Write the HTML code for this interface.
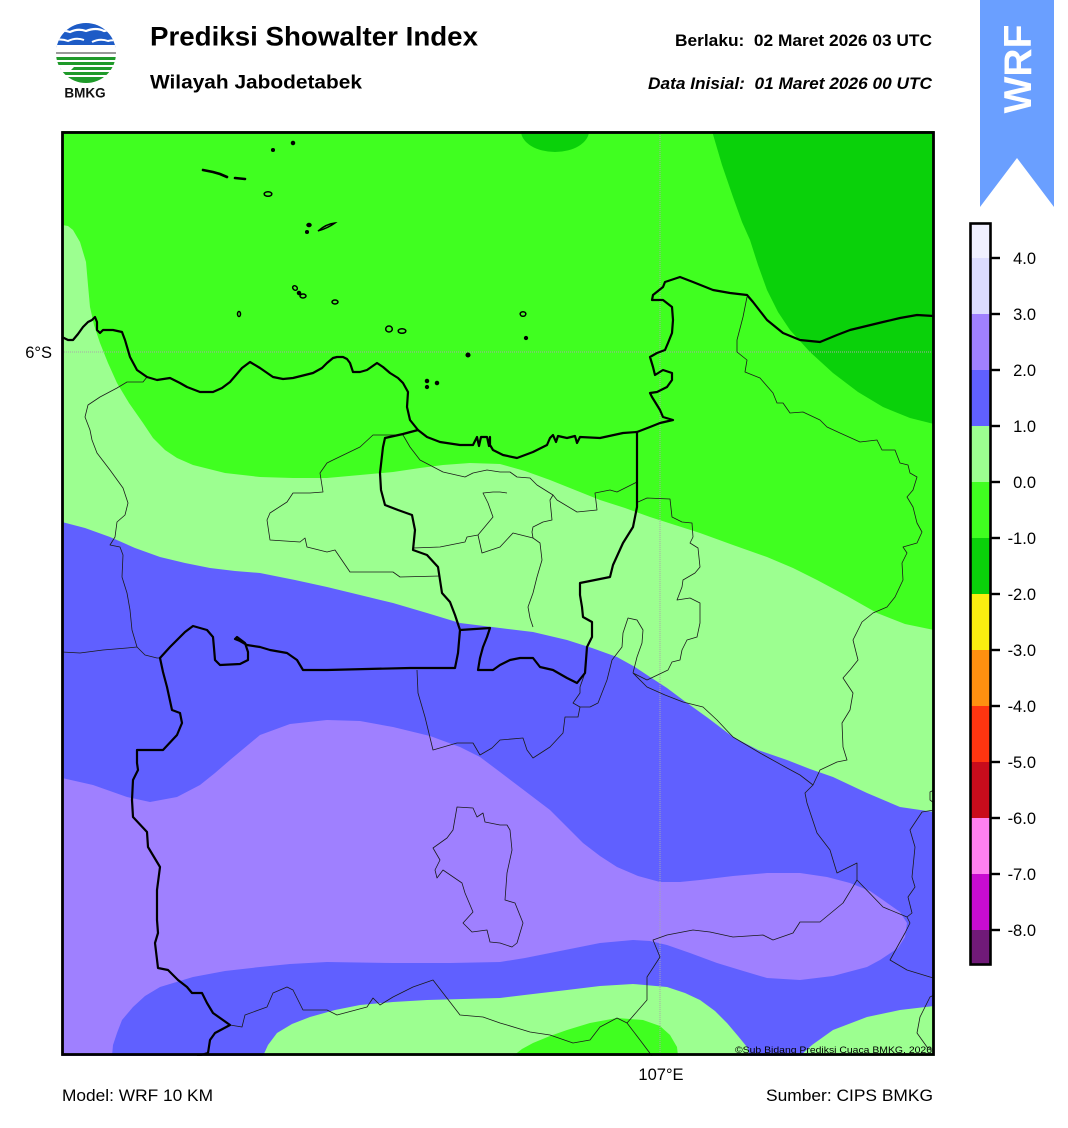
<!DOCTYPE html>
<html>
<head>
<meta charset="utf-8">
<style>
html,body{margin:0;padding:0;background:#fff;}
svg{display:block;}
text{font-family:"Liberation Sans",Arial,sans-serif;}
</style>
</head>
<body>
<svg width="1068" height="1128" viewBox="0 0 1068 1128" xmlns="http://www.w3.org/2000/svg">
<rect x="0" y="0" width="1068" height="1128" fill="#fff"/>

<!-- ===== LOGO ===== -->
<defs>
  <clipPath id="lc"><circle cx="86" cy="53" r="30"/></clipPath>
  <clipPath id="mc"><rect x="62" y="131" width="872" height="925"/></clipPath>
</defs>
<g clip-path="url(#lc)">
  <rect x="50" y="20" width="75" height="28" fill="#1d5bc6"/>
  <path d="M52,33 Q62,29 70,32 Q78,28 86,31 Q96,27 104,31 Q112,29 122,32" stroke="#fff" stroke-width="2.2" fill="none"/>
  <path d="M52,41 Q60,38 68,41 Q76,37 84,40" stroke="#fff" stroke-width="2" fill="none"/>
  <path d="M92,42 Q100,38 108,41 Q114,39 122,42" stroke="#fff" stroke-width="2" fill="none"/>
  <rect x="50" y="45" width="75" height="5" fill="#fff"/>
  <rect x="50" y="52" width="75" height="2" fill="#9a9a9a"/>
  <rect x="50" y="57" width="75" height="3" fill="#1f9a2a"/>
  <rect x="50" y="62" width="75" height="3" fill="#1f9a2a"/>
  <rect x="60" y="67" width="65" height="3" fill="#1f9a2a"/>
  <rect x="50" y="72" width="75" height="3" fill="#1f9a2a"/>
  <rect x="50" y="77" width="75" height="6" fill="#1f9a2a"/>
  <path d="M50,66 L75,66 L70,71 L50,71 Z" fill="#fff"/>
</g>
<text x="85" y="97.5" font-size="13.5" font-weight="bold" text-anchor="middle" fill="#111">BMKG</text>

<!-- ===== HEADER TEXT ===== -->
<text x="150" y="45.5" font-size="27" font-weight="bold" fill="#000" textLength="328" lengthAdjust="spacingAndGlyphs">Prediksi Showalter Index</text>
<text x="150" y="88.5" font-size="19.5" font-weight="bold" fill="#000" textLength="212" lengthAdjust="spacingAndGlyphs">Wilayah Jabodetabek</text>
<text x="675" y="46" font-size="16.5" font-weight="bold" fill="#000" textLength="257" lengthAdjust="spacingAndGlyphs">Berlaku:&#160; 02 Maret 2026 03 UTC</text>
<text x="648" y="89" font-size="16.5" font-weight="bold" font-style="italic" fill="#000" textLength="284" lengthAdjust="spacingAndGlyphs">Data Inisial:&#160; 01 Maret 2026 00 UTC</text>

<!-- ===== WRF RIBBON ===== -->
<polygon points="980,0 1054,0 1054,207 1017,158 980,207" fill="#6a9fff"/>
<text transform="translate(1031,69) rotate(-90)" font-size="39" font-weight="bold" fill="#fff" text-anchor="middle">WRF</text>

<!-- ===== MAP ===== -->
<g clip-path="url(#mc)">
  <rect x="62" y="131" width="872" height="925" fill="#40ff20"/>
  <!-- dark green -->
  <path d="M712,131 L722,165 L733,197 L742,222 L750,240 L758,265 L767,290 L778,312 L790,330 L810,352 L833,373 L858,392 L883,407 L910,418 L934,424 L934,131 Z" fill="#0ad10a"/>
  <ellipse cx="555" cy="131" rx="34" ry="21" fill="#0ad10a"/>
  <!-- light green -->
  <path d="M62,225 L68,226 L73,230 L80,242 L86,262 L88,285 L90,307 L94,325 L100,343 L108,363 L117,383 L129,403 L143,423 L153,438 L165,450 L177,458 L193,465 L225,473 L260,477 L293,478 L327,478 L360,475 L393,472 L420,468 L443,465 L470,463 L500,464 L525,471 L550,480 L575,490 L600,500 L625,508 L650,517 L675,525 L700,533 L733,545 L767,557 L793,568 L817,580 L847,596 L877,613 L905,624 L934,630 L934,1056 L62,1056 Z" fill="#9cff90"/>
  <!-- blue -->
  <path d="M62,522 L85,528 L110,537 L135,548 L160,557 L185,563 L210,568 L235,571 L260,573 L295,580 L327,587 L360,595 L393,603 L427,613 L460,623 L500,628 L533,632 L567,640 L592,648 L617,657 L635,667 L650,677 L667,688 L683,700 L708,718 L733,737 L758,750 L787,760 L810,769 L833,777 L867,793 L900,807 L934,812 L934,1056 L62,1056 Z" fill="#6060ff"/>
  <!-- purple -->
  <path d="M62,778 L93,785 L127,797 L150,802 L177,797 L200,785 L215,773 L230,760 L260,735 L290,724 L327,720 L360,721 L393,727 L430,736 L460,747 L480,757 L500,772 L525,791 L550,810 L567,827 L583,843 L600,856 L617,867 L638,876 L660,882 L680,882 L700,880 L733,876 L767,873 L800,873 L827,877 L850,883 L870,891 L883,900 L900,912 L907,923 L905,937 L898,948 L880,960 L867,967 L833,976 L800,980 L767,978 L740,970 L717,963 L690,953 L667,945 L650,941 L633,940 L600,943 L575,948 L550,953 L525,958 L500,962 L450,963 L393,963 L327,962 L290,964 L260,967 L225,971 L193,977 L160,987 L145,996 L133,1007 L122,1020 L117,1033 L113,1045 L112,1056 L62,1056 Z" fill="#9f80ff"/>
  <!-- bottom light green -->
  <path d="M263,1056 L268,1045 L277,1033 L292,1024 L310,1017 L335,1010 L360,1005 L393,1002 L427,1000 L463,999 L500,998 L533,994 L567,990 L600,986 L633,984 L667,987 L685,993 L700,1000 L715,1011 L727,1023 L738,1036 L747,1047 L750,1056 Z" fill="#9cff90"/>
  <path d="M800,1056 L812,1045 L833,1030 L867,1017 L900,1010 L934,1006 L934,1056 Z" fill="#9cff90"/>
  <!-- bottom green -->
  <path d="M513,1056 L522,1049 L533,1043 L550,1036 L567,1030 L590,1023 L617,1018 L643,1020 L660,1026 L670,1035 L677,1047 L678,1056 Z" fill="#40ff20"/>

  <!-- grid lines -->
  <line x1="62" y1="352" x2="934" y2="352" stroke="#a8a8a8" stroke-width="1" stroke-dasharray="1 1"/>
  <line x1="660" y1="131" x2="660" y2="1056" stroke="#a8a8a8" stroke-width="1" stroke-dasharray="1 1"/>

  <!-- thin regency lines -->
  <g fill="none" stroke="#1a1a1a" stroke-width="0.8" stroke-linejoin="round">
    <path d="M147,377 L143,382 L127,382 L117,388 L100,397 L88,405 L85,417 L90,430 L92,440 L97,453 L110,470 L123,488 L128,503 L125,515 L117,522 L115,537 L110,545 L120,547 L123,555 L122,577 L127,593 L130,610 L132,630 L137,647 L145,655 L157,658 L160,658"/>
    <path d="M62,652 L80,653 L103,650 L127,648 L137,647"/>
    <path d="M403,435 L410,447 L420,460 L443,472 L465,477 L473,473 L487,470 L500,472 L510,472 L517,477 L530,478 L537,485 L553,495 L550,500 L552,520 L543,522 L533,527 L532,532 L533,538 L540,543 L542,560 L537,577 L533,593 L528,607 L530,618 L533,627"/>
    <path d="M403,435 L373,435 L360,447 L333,460 L327,463 L320,473 L323,492 L310,493 L293,493 L287,502 L270,513 L267,520 L270,540 L300,542 L305,538 L307,547 L327,552 L335,550 L350,572 L393,572 L400,577 L440,576"/>
    <path d="M413,548 L440,547 L465,542 L467,537 L478,535 L493,517 L488,503 L483,493 L493,492 L500,492 L507,493"/>
    <path d="M478,535 L482,553 L500,547 L513,533 L533,538"/>
    <path d="M553,495 L557,500 L577,512 L597,510 L595,493 L610,490 L617,492 L627,487 L635,483 L637,482"/>
    <path d="M638,502 L647,498 L670,499 L672,517 L682,522 L692,523 L693,537 L690,543 L698,548 L700,567 L695,573 L683,580 L682,587 L677,600 L690,598 L700,603 L700,623 L697,637 L687,640 L682,650 L680,660 L672,662 L668,670 L647,680 L633,673"/>
    <path d="M633,673 L637,657 L642,643 L643,630 L637,620 L628,618 L623,633 L622,647 L612,660 L607,680 L598,703 L590,707 L580,707 L573,703 L580,693 L580,687 L585,673"/>
    <path d="M633,673 L647,687 L665,695 L683,702 L703,707 L717,720 L733,737 L760,753 L787,768 L800,775 L813,785 L805,793 L807,803 L817,833 L830,850 L837,873 L857,863 L857,880 L883,907 L907,917 L910,923 L905,933 L890,960 L907,970 L930,977 L934,978"/>
    <path d="M857,880 L843,903 L820,922 L800,922 L793,933 L773,940 L763,935 L733,937 L710,932 L693,930 L667,935 L653,940 L660,957 L647,977 L647,1000 L627,1023 L640,1040 L652,1056"/>
    <path d="M627,1023 L617,1018 L600,1027 L590,1040 L573,1043 L550,1035 L530,1032 L507,1025 L500,1023 L483,1017 L460,1015 L433,980 L413,987 L393,997 L380,1005 L373,998 L367,1007 L337,1015 L327,1010 L303,1010 L293,990 L287,987 L273,993 L267,1007 L245,1015 L242,1027 L230,1025"/>
    <path d="M747,297 L743,317 L737,340 L737,352 L747,360 L745,372 L760,378 L773,393 L777,403 L783,403 L790,413 L803,412 L820,420 L827,427 L840,433 L860,442 L877,440 L882,450 L895,450 L900,463 L908,465 L910,473 L917,477 L913,490 L907,497 L913,507 L917,523 L922,532 L917,543 L903,547 L907,553 L902,563 L903,580 L895,597 L887,607 L873,613 L862,622 L858,630 L853,640 L858,660 L850,670 L843,678 L853,693 L850,710 L842,723 L843,747 L847,760 L837,762 L820,770 L813,785"/>
    <path d="M934,810 L922,812 L910,830 L915,847 L912,877 L915,887 L908,897 L912,913 L907,917"/>
    <path d="M934,790 L930,792 L930,800 L934,803"/>
    <path d="M934,995 L930,997 L920,1017 L917,1033 L927,1047 L934,1050"/>
    <path d="M457,807 L473,808 L477,817 L483,813 L485,822 L500,825 L507,825 L510,830 L512,850 L507,873 L505,900 L515,903 L523,923 L517,943 L512,947 L500,943 L490,942 L487,930 L472,932 L463,923 L473,912 L465,893 L462,883 L443,870 L437,878 L435,870 L440,860 L433,848 L447,838 L453,830 L457,807 Z"/>
    <path d="M417,670 L418,693 L425,717 L433,750 L457,743 L473,743 L480,755 L492,748 L500,740 L523,738 L527,750 L533,758 L550,747 L563,733 L565,717 L578,717 L580,707"/>
  </g>

  <!-- coastline -->
  <path d="M62,337 L68,340 L73,340 L78,334 L83,327 L88,322 L92,320 L95,317 L97,322 L97,330 L100,333 L103,330 L113,330 L122,332 L125,340 L130,357 L137,370 L147,377 L157,380 L170,378 L180,383 L187,387 L200,392 L213,392 L222,388 L230,382 L236,375 L242,368 L250,362 L260,368 L273,377 L283,379 L293,378 L313,373 L322,368 L327,363 L333,358 L337,357 L343,357 L347,359 L350,363 L353,372 L360,372 L367,370 L377,363 L383,367 L390,373 L398,378 L403,383 L408,392 L407,407 L410,420 L418,430 L427,437 L440,442 L460,445 L473,445 L477,437 L479,446 L481,437 L487,437 L489,446 L490,437 L490,445 L493,450 L503,455 L517,458 L533,452 L547,445 L550,438 L553,435 L556,442 L558,436 L567,438 L575,436 L577,443 L580,437 L600,438 L623,433 L637,432 L650,427 L660,423 L673,420 L663,417 L660,410 L652,397 L650,393 L657,392 L667,387 L672,380 L672,373 L663,370 L655,375 L653,367 L650,357 L657,353 L665,350 L668,343 L672,333 L673,320 L672,307 L663,300 L652,300 L653,295 L663,287 L665,282 L680,277 L693,282 L713,290 L730,293 L747,295 L753,302 L767,320 L783,333 L800,340 L820,342 L837,335 L850,330 L883,322 L900,318 L917,315 L934,316" fill="none" stroke="#000" stroke-width="2.2" stroke-linejoin="round"/>

  <!-- thick province boundaries -->
  <g fill="none" stroke="#000" stroke-width="2.2" stroke-linejoin="round">
    <path d="M418,430 L403,434 L385,438 L383,447 L380,473 L381,490 L385,505 L398,510 L412,515 L415,530 L413,550 L427,555 L438,567 L440,580 L442,593 L450,602 L455,615 L460,630 L458,653 L455,668 L410,668 L367,669 L327,670 L303,670 L297,660 L287,653 L270,650 L260,647 L247,645 L240,641 L235,639 L237,637 L245,643 L248,652 L248,660 L240,664 L220,665 L215,660 L214,648 L213,637 L207,630 L193,626 L185,632 L170,647 L160,658 L163,672 L167,687 L172,710 L180,713 L182,723 L177,735 L163,750 L137,750 L137,763 L138,770 L133,780 L132,800 L133,817 L147,832 L148,847 L160,867 L157,890 L157,920 L158,933 L155,943 L158,968 L168,970 L178,980 L187,987 L192,993 L202,993 L207,1003 L213,1013 L230,1025 L215,1033 L210,1040 L208,1053 L197,1056"/>
    <path d="M460,630 L475,629 L490,628 L487,637 L483,647 L480,658 L478,670 L493,670 L500,665 L510,660 L520,658 L533,658 L540,667 L553,670 L567,678 L577,683 L585,673 L587,647 L592,637 L592,622 L583,617 L582,607 L580,595 L580,583 L595,580 L610,577 L613,565 L623,543 L633,527 L637,507 L637,440 L637,432"/>
  </g>

  <!-- islands -->
  <g fill="none" stroke="#000" stroke-width="1.5">
    <circle cx="273" cy="150" r="1.3" fill="#000"/>
    <circle cx="293" cy="143" r="1.5" fill="#000"/>
    <path d="M203,170 L213,172 L220,174 L227,177" stroke-width="2.6" stroke-linecap="round"/>
    <path d="M235,178 L245,179" stroke-width="2.6" stroke-linecap="round"/>
    <ellipse cx="268" cy="194" rx="3.8" ry="2.3"/>
    <ellipse cx="309" cy="225" rx="2" ry="1.5" fill="#000"/>
    <circle cx="307" cy="232" r="1.3" fill="#000"/>
    <path d="M318,231 Q326,224 335,223 Q328,228 318,231 Z" stroke-width="1.4"/>
    <ellipse cx="295" cy="288" rx="2.5" ry="2" transform="rotate(40 295 288)"/>
    <ellipse cx="299" cy="293" rx="1.5" ry="1.5" fill="#000"/>
    <ellipse cx="303" cy="296" rx="3" ry="2"/>
    <ellipse cx="335" cy="302" rx="3" ry="2"/>
    <ellipse cx="239" cy="314" rx="1.5" ry="2.5"/>
    <ellipse cx="389" cy="329" rx="3.3" ry="3"/>
    <ellipse cx="402" cy="331" rx="3.8" ry="2.3"/>
    <circle cx="468" cy="355" r="1.8" fill="#000"/>
    <circle cx="427" cy="381" r="1.5" fill="#000"/>
    <circle cx="427" cy="387" r="1.4" fill="#000"/>
    <circle cx="437" cy="383" r="1.5" fill="#000"/>
    <ellipse cx="523" cy="314" rx="2.8" ry="2.3"/>
    <circle cx="526" cy="338" r="1.4" fill="#000"/>
  </g>

  <text x="932" y="1053" font-size="9.5" fill="#000" text-anchor="end" textLength="197" lengthAdjust="spacingAndGlyphs">©Sub Bidang Prediksi Cuaca BMKG, 2026</text>
</g>
<!-- map frame -->
<rect x="62.5" y="132.5" width="871" height="922" fill="none" stroke="#000" stroke-width="2.8"/>

<!-- axis labels -->
<text x="52" y="358" font-size="16.5" fill="#000" text-anchor="end">6°S</text>
<text x="661" y="1080" font-size="16.5" fill="#000" text-anchor="middle">107°E</text>
<text x="62" y="1101" font-size="16.5" fill="#000" textLength="151" lengthAdjust="spacingAndGlyphs">Model: WRF 10 KM</text>
<text x="933" y="1101" font-size="16.5" fill="#000" text-anchor="end" textLength="167" lengthAdjust="spacingAndGlyphs">Sumber: CIPS BMKG</text>

<!-- ===== COLORBAR ===== -->
<rect x="971" y="224" width="19" height="34" fill="#f0f0ff"/>
<rect x="971" y="258" width="19" height="56" fill="#dcdcff"/>
<rect x="971" y="314" width="19" height="56" fill="#a080ff"/>
<rect x="971" y="370" width="19" height="56" fill="#6060ff"/>
<rect x="971" y="426" width="19" height="56" fill="#9cff90"/>
<rect x="971" y="482" width="19" height="56" fill="#40ff20"/>
<rect x="971" y="538" width="19" height="56" fill="#0ad10a"/>
<rect x="971" y="594" width="19" height="56" fill="#faee10"/>
<rect x="971" y="650" width="19" height="56" fill="#ff9010"/>
<rect x="971" y="706" width="19" height="56" fill="#ff3510"/>
<rect x="971" y="762" width="19" height="56" fill="#c80c1c"/>
<rect x="971" y="818" width="19" height="56" fill="#ff80f0"/>
<rect x="971" y="874" width="19" height="56" fill="#c80cd0"/>
<rect x="971" y="930" width="19" height="35" fill="#701a78"/>
<rect x="970.5" y="223.5" width="20" height="741" fill="none" stroke="#000" stroke-width="2.6"/>
<g stroke="#000" stroke-width="2.4">
  <line x1="991" y1="258" x2="1000" y2="258"/>
  <line x1="991" y1="314" x2="1000" y2="314"/>
  <line x1="991" y1="370" x2="1000" y2="370"/>
  <line x1="991" y1="426" x2="1000" y2="426"/>
  <line x1="991" y1="482" x2="1000" y2="482"/>
  <line x1="991" y1="538" x2="1000" y2="538"/>
  <line x1="991" y1="594" x2="1000" y2="594"/>
  <line x1="991" y1="650" x2="1000" y2="650"/>
  <line x1="991" y1="706" x2="1000" y2="706"/>
  <line x1="991" y1="762" x2="1000" y2="762"/>
  <line x1="991" y1="818" x2="1000" y2="818"/>
  <line x1="991" y1="874" x2="1000" y2="874"/>
  <line x1="991" y1="930" x2="1000" y2="930"/>
</g>
<g font-size="16.5" fill="#000" text-anchor="end">
  <text x="1036" y="264">4.0</text>
  <text x="1036" y="320">3.0</text>
  <text x="1036" y="376">2.0</text>
  <text x="1036" y="432">1.0</text>
  <text x="1036" y="488">0.0</text>
  <text x="1036" y="544">-1.0</text>
  <text x="1036" y="600">-2.0</text>
  <text x="1036" y="656">-3.0</text>
  <text x="1036" y="712">-4.0</text>
  <text x="1036" y="768">-5.0</text>
  <text x="1036" y="824">-6.0</text>
  <text x="1036" y="880">-7.0</text>
  <text x="1036" y="936">-8.0</text>
</g>
</svg>
</body>
</html>
